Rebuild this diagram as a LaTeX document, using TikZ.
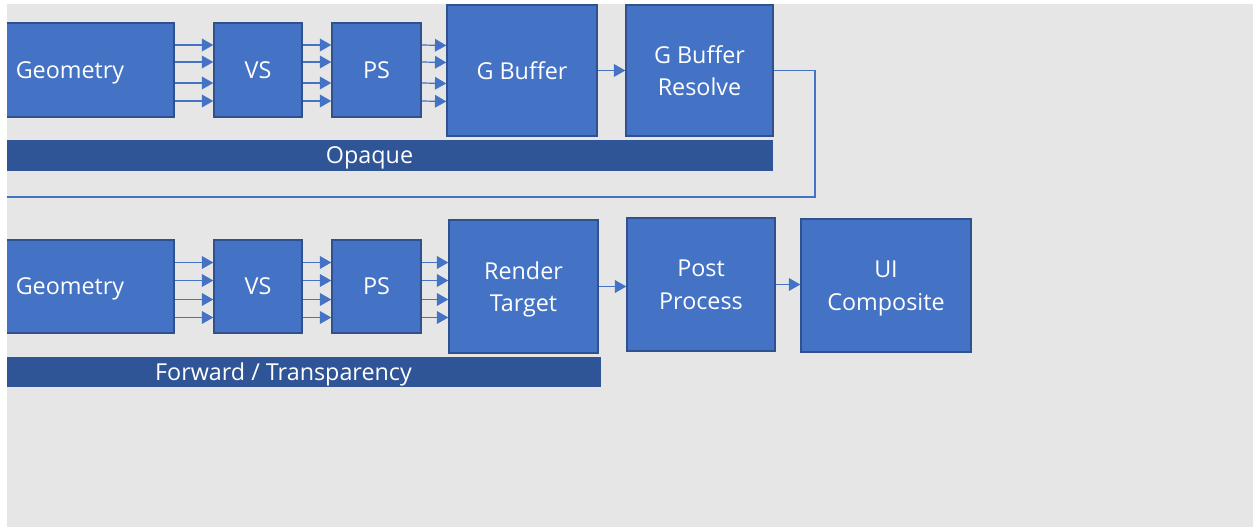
\documentclass[tikz,border=0pt]{standalone}
\usepackage{fontspec}
\setmainfont{Open Sans}
\usepackage{xcolor}
\usetikzlibrary{positioning,arrows.meta,calc}

\definecolor{boxfill}{HTML}{4472C4}
\definecolor{boxline}{HTML}{2F528F}
\definecolor{barfill}{HTML}{2F5597}
\definecolor{canvas}{HTML}{E7E6E6}

\tikzset{
    stage/.style={draw=boxline, line width=1.1pt, fill=boxfill, text=white,
        align=center, inner sep=0pt, text depth=0pt,
        font=\fontsize{17.5}{24.4}\selectfont},
    band/.style={fill=barfill, text=white, inner sep=0pt, text depth=0pt,
        font=\fontsize{17.5}{20}\selectfont},
    feed/.style={draw=boxfill, line width=0.9pt, -{Triangle[length=8.5pt,width=9.5pt]}},
    wire/.style={draw=boxfill, line width=1.2pt}
}

\begin{document}
\begin{tikzpicture}[x=0.75pt,y=-0.75pt]
    \useasboundingbox (0,0) rectangle (1253,527);
    \fill[canvas] (7,4) rectangle (1253,527);

    \begin{scope}
        \clip (7,4) rectangle (1253,527);

        %% opaque pass
        \node[stage, minimum width=156pt, minimum height=70.5pt] (geo1) at (70,70) {Geometry};
        \node[stage, minimum width=66pt, minimum height=70.5pt] (vs1) at (258,70) {VS};
        \node[stage, minimum width=66.75pt, minimum height=70.5pt] (ps1) at (376.5,70) {PS};
        \node[stage, minimum width=112.5pt, minimum height=98pt] (gbuf) at (522,70.5) {G Buffer};
        \node[stage, minimum width=110.25pt, minimum height=98pt] (resolve) at (699.5,70.5) {G Buffer\\Resolve};
        \node[band, minimum width=605.25pt, minimum height=23.25pt] (opaque) at (369.5,155.5) {Opaque};

        \foreach \dy in {-25,-8,13,31} {
            \draw[feed] ($(geo1.east)+(0,\dy)$) -- ($(vs1.west)+(0,\dy)$);
            \draw[feed] ($(vs1.east)+(0,\dy)$) -- ($(ps1.west)+(0,\dy)$);
            \draw[feed] ($(ps1.east)+(0,\dy)$) -- ($(gbuf.west)+(0,\dy)$);
        }
        \draw[feed] (resolve.west -| gbuf.east) -- (resolve.west);

        %% back round to the forward pass
        \coordinate (loopend) at (-40,197);
        \draw[wire] (resolve.east) -- ++(41,0) |- (loopend);

        %% forward / transparency pass
        \node[stage, minimum width=156pt, minimum height=69.75pt] (geo2) at (70,286.5) {Geometry};
        \node[stage, minimum width=66pt, minimum height=69.75pt] (vs2) at (258,286.5) {VS};
        \node[stage, minimum width=66.75pt, minimum height=69.75pt] (ps2) at (376.5,286.5) {PS};
        \node[stage, minimum width=111.75pt, minimum height=99.75pt] (target) at (523.5,286.5) {Render\\Target};
        \node[stage, minimum width=111pt, minimum height=99.75pt] (post) at (701,284.5) {Post\\Process};
        \node[stage, minimum width=127.5pt, minimum height=99.75pt] (ui) at (886,285.5) {UI\\Composite};
        \node[band, minimum width=476.25pt, minimum height=22.5pt] (forward) at (283.5,372) {Forward / Transparency};

        \foreach \dy in {-24,-6,13,31} {
            \draw[feed] ($(geo2.east)+(0,\dy)$) -- ($(vs2.west)+(0,\dy)$);
            \draw[feed] ($(vs2.east)+(0,\dy)$) -- ($(ps2.west)+(0,\dy)$);
            \draw[feed] ($(ps2.east)+(0,\dy)$) -- ($(target.west)+(0,\dy)$);
        }
        \draw[feed] (target.east) -- (target.east -| post.west);
        \draw[feed] (post.east) -- (post.east -| ui.west);
    \end{scope}
\end{tikzpicture}
\end{document}
